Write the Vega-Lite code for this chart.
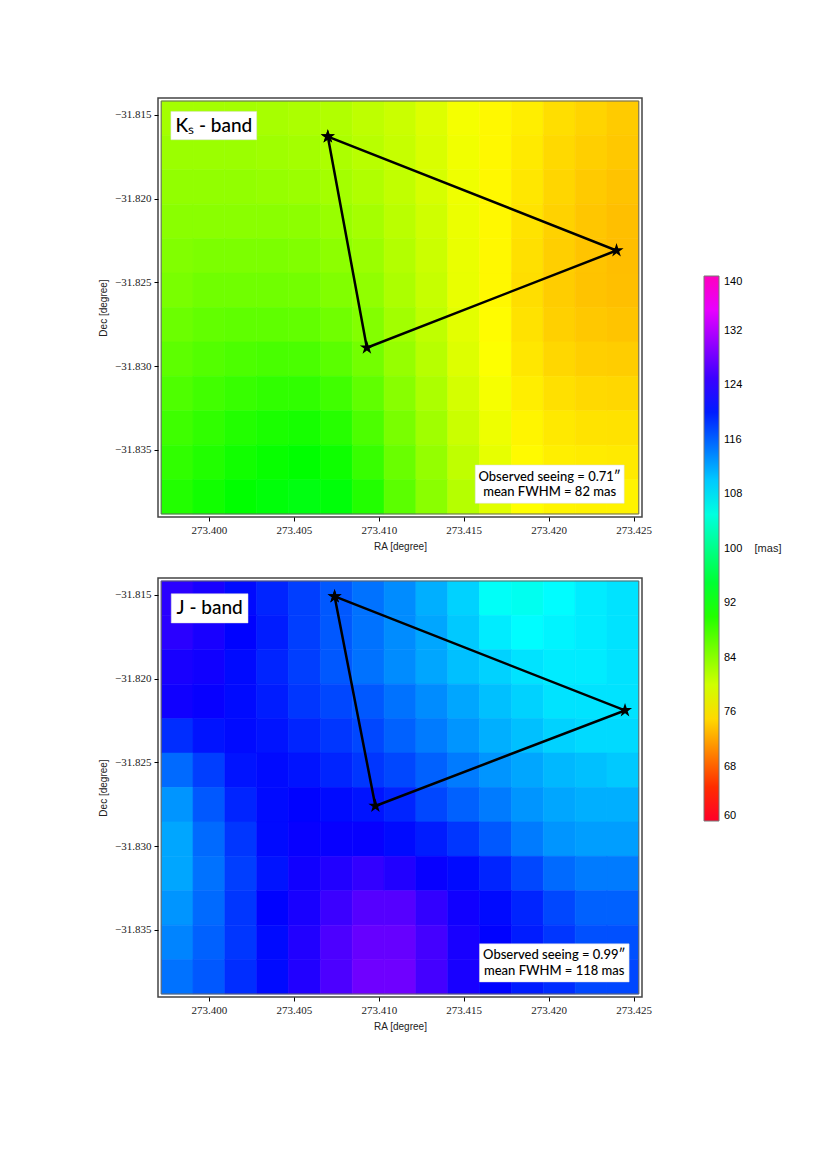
{
  "$schema": "https://vega.github.io/schema/vega-lite/v6.json",
  "autosize": {"type": "pad"},
  "padding": {"left": 97, "top": 97, "right": 5, "bottom": 5},
  "background": "white",
  "config": {
    "view": {"stroke": "#444", "strokeWidth": 1.5},
    "axis": {"domain": false, "grid": false, "tickColor": "#000", "tickSize": 4, "labelFont": "Liberation Serif", "labelFontSize": 11, "labelColor": "#222", "titleFont": "Liberation Sans", "titleFontSize": 10, "titleFontWeight": "normal", "titleColor": "#222"},
    "legend": {"padding": 0}
  },
  "datasets": {
    "ks": [
      {"ra":273.3980,"dec":-31.8150,"fwhm":82.5},{"ra":273.3999,"dec":-31.8150,"fwhm":82.5},{"ra":273.4018,"dec":-31.8150,"fwhm":82.5},{"ra":273.4037,"dec":-31.8150,"fwhm":82.3},{"ra":273.4056,"dec":-31.8150,"fwhm":82},{"ra":273.4075,"dec":-31.8150,"fwhm":81.7},{"ra":273.4094,"dec":-31.8150,"fwhm":81},{"ra":273.4113,"dec":-31.8150,"fwhm":80.3},{"ra":273.4132,"dec":-31.8150,"fwhm":79.2},{"ra":273.4151,"dec":-31.8150,"fwhm":77.8},{"ra":273.4170,"dec":-31.8150,"fwhm":76.8},{"ra":273.4189,"dec":-31.8150,"fwhm":76.2},{"ra":273.4208,"dec":-31.8150,"fwhm":75.3},{"ra":273.4227,"dec":-31.8150,"fwhm":74.7},{"ra":273.4246,"dec":-31.8150,"fwhm":74.2},
      {"ra":273.3980,"dec":-31.8171,"fwhm":83},{"ra":273.3999,"dec":-31.8171,"fwhm":83},{"ra":273.4018,"dec":-31.8171,"fwhm":83},{"ra":273.4037,"dec":-31.8171,"fwhm":82.8},{"ra":273.4056,"dec":-31.8171,"fwhm":82.5},{"ra":273.4075,"dec":-31.8171,"fwhm":82},{"ra":273.4094,"dec":-31.8171,"fwhm":81.3},{"ra":273.4113,"dec":-31.8171,"fwhm":80.5},{"ra":273.4132,"dec":-31.8171,"fwhm":79.4},{"ra":273.4151,"dec":-31.8171,"fwhm":78},{"ra":273.4170,"dec":-31.8171,"fwhm":76.8},{"ra":273.4189,"dec":-31.8171,"fwhm":76},{"ra":273.4208,"dec":-31.8171,"fwhm":75},{"ra":273.4227,"dec":-31.8171,"fwhm":74.4},{"ra":273.4246,"dec":-31.8171,"fwhm":74},
      {"ra":273.3980,"dec":-31.8192,"fwhm":83.5},{"ra":273.3999,"dec":-31.8192,"fwhm":83.5},{"ra":273.4018,"dec":-31.8192,"fwhm":83.5},{"ra":273.4037,"dec":-31.8192,"fwhm":83.3},{"ra":273.4056,"dec":-31.8192,"fwhm":83},{"ra":273.4075,"dec":-31.8192,"fwhm":82.5},{"ra":273.4094,"dec":-31.8192,"fwhm":81.8},{"ra":273.4113,"dec":-31.8192,"fwhm":80.8},{"ra":273.4132,"dec":-31.8192,"fwhm":79.6},{"ra":273.4151,"dec":-31.8192,"fwhm":78.1},{"ra":273.4170,"dec":-31.8192,"fwhm":76.8},{"ra":273.4189,"dec":-31.8192,"fwhm":75.8},{"ra":273.4208,"dec":-31.8192,"fwhm":74.8},{"ra":273.4227,"dec":-31.8192,"fwhm":74.1},{"ra":273.4246,"dec":-31.8192,"fwhm":73.7},
      {"ra":273.3980,"dec":-31.8213,"fwhm":84},{"ra":273.3999,"dec":-31.8213,"fwhm":84},{"ra":273.4018,"dec":-31.8213,"fwhm":84},{"ra":273.4037,"dec":-31.8213,"fwhm":84},{"ra":273.4056,"dec":-31.8213,"fwhm":83.8},{"ra":273.4075,"dec":-31.8213,"fwhm":83.2},{"ra":273.4094,"dec":-31.8213,"fwhm":82.4},{"ra":273.4113,"dec":-31.8213,"fwhm":81.2},{"ra":273.4132,"dec":-31.8213,"fwhm":80},{"ra":273.4151,"dec":-31.8213,"fwhm":78.3},{"ra":273.4170,"dec":-31.8213,"fwhm":76.8},{"ra":273.4189,"dec":-31.8213,"fwhm":75.6},{"ra":273.4208,"dec":-31.8213,"fwhm":74.6},{"ra":273.4227,"dec":-31.8213,"fwhm":73.9},{"ra":273.4246,"dec":-31.8213,"fwhm":73.5},
      {"ra":273.3980,"dec":-31.8234,"fwhm":84.5},{"ra":273.3999,"dec":-31.8234,"fwhm":84.8},{"ra":273.4018,"dec":-31.8234,"fwhm":84.8},{"ra":273.4037,"dec":-31.8234,"fwhm":84.8},{"ra":273.4056,"dec":-31.8234,"fwhm":84.5},{"ra":273.4075,"dec":-31.8234,"fwhm":83.8},{"ra":273.4094,"dec":-31.8234,"fwhm":83},{"ra":273.4113,"dec":-31.8234,"fwhm":81.6},{"ra":273.4132,"dec":-31.8234,"fwhm":80.2},{"ra":273.4151,"dec":-31.8234,"fwhm":78.4},{"ra":273.4170,"dec":-31.8234,"fwhm":76.8},{"ra":273.4189,"dec":-31.8234,"fwhm":75.4},{"ra":273.4208,"dec":-31.8234,"fwhm":74.4},{"ra":273.4227,"dec":-31.8234,"fwhm":73.8},{"ra":273.4246,"dec":-31.8234,"fwhm":73.4},
      {"ra":273.3980,"dec":-31.8255,"fwhm":85},{"ra":273.3999,"dec":-31.8255,"fwhm":85.5},{"ra":273.4018,"dec":-31.8255,"fwhm":85.5},{"ra":273.4037,"dec":-31.8255,"fwhm":85.5},{"ra":273.4056,"dec":-31.8255,"fwhm":85.3},{"ra":273.4075,"dec":-31.8255,"fwhm":84.5},{"ra":273.4094,"dec":-31.8255,"fwhm":83.6},{"ra":273.4113,"dec":-31.8255,"fwhm":82},{"ra":273.4132,"dec":-31.8255,"fwhm":80.5},{"ra":273.4151,"dec":-31.8255,"fwhm":78.5},{"ra":273.4170,"dec":-31.8255,"fwhm":76.8},{"ra":273.4189,"dec":-31.8255,"fwhm":75.3},{"ra":273.4208,"dec":-31.8255,"fwhm":74.3},{"ra":273.4227,"dec":-31.8255,"fwhm":73.7},{"ra":273.4246,"dec":-31.8255,"fwhm":73.5},
      {"ra":273.3980,"dec":-31.8275,"fwhm":85.8},{"ra":273.3999,"dec":-31.8275,"fwhm":86.3},{"ra":273.4018,"dec":-31.8275,"fwhm":86.5},{"ra":273.4037,"dec":-31.8275,"fwhm":86.5},{"ra":273.4056,"dec":-31.8275,"fwhm":86.3},{"ra":273.4075,"dec":-31.8275,"fwhm":85.5},{"ra":273.4094,"dec":-31.8275,"fwhm":84.4},{"ra":273.4113,"dec":-31.8275,"fwhm":82.6},{"ra":273.4132,"dec":-31.8275,"fwhm":80.9},{"ra":273.4151,"dec":-31.8275,"fwhm":78.8},{"ra":273.4170,"dec":-31.8275,"fwhm":77},{"ra":273.4189,"dec":-31.8275,"fwhm":75.5},{"ra":273.4208,"dec":-31.8275,"fwhm":74.5},{"ra":273.4227,"dec":-31.8275,"fwhm":74},{"ra":273.4246,"dec":-31.8275,"fwhm":73.8},
      {"ra":273.3980,"dec":-31.8296,"fwhm":86.6},{"ra":273.3999,"dec":-31.8296,"fwhm":87.2},{"ra":273.4018,"dec":-31.8296,"fwhm":87.6},{"ra":273.4037,"dec":-31.8296,"fwhm":87.8},{"ra":273.4056,"dec":-31.8296,"fwhm":87.7},{"ra":273.4075,"dec":-31.8296,"fwhm":86.8},{"ra":273.4094,"dec":-31.8296,"fwhm":85.3},{"ra":273.4113,"dec":-31.8296,"fwhm":83.3},{"ra":273.4132,"dec":-31.8296,"fwhm":81.4},{"ra":273.4151,"dec":-31.8296,"fwhm":79.2},{"ra":273.4170,"dec":-31.8296,"fwhm":77.3},{"ra":273.4189,"dec":-31.8296,"fwhm":75.8},{"ra":273.4208,"dec":-31.8296,"fwhm":74.9},{"ra":273.4227,"dec":-31.8296,"fwhm":74.4},{"ra":273.4246,"dec":-31.8296,"fwhm":74.3},
      {"ra":273.3980,"dec":-31.8317,"fwhm":87.5},{"ra":273.3999,"dec":-31.8317,"fwhm":88.2},{"ra":273.4018,"dec":-31.8317,"fwhm":88.8},{"ra":273.4037,"dec":-31.8317,"fwhm":89.2},{"ra":273.4056,"dec":-31.8317,"fwhm":89.2},{"ra":273.4075,"dec":-31.8317,"fwhm":88.3},{"ra":273.4094,"dec":-31.8317,"fwhm":86.4},{"ra":273.4113,"dec":-31.8317,"fwhm":84.1},{"ra":273.4132,"dec":-31.8317,"fwhm":82},{"ra":273.4151,"dec":-31.8317,"fwhm":79.7},{"ra":273.4170,"dec":-31.8317,"fwhm":77.7},{"ra":273.4189,"dec":-31.8317,"fwhm":76.2},{"ra":273.4208,"dec":-31.8317,"fwhm":75.4},{"ra":273.4227,"dec":-31.8317,"fwhm":75},{"ra":273.4246,"dec":-31.8317,"fwhm":74.9},
      {"ra":273.3980,"dec":-31.8338,"fwhm":88.4},{"ra":273.3999,"dec":-31.8338,"fwhm":89.2},{"ra":273.4018,"dec":-31.8338,"fwhm":90},{"ra":273.4037,"dec":-31.8338,"fwhm":90.5},{"ra":273.4056,"dec":-31.8338,"fwhm":90.7},{"ra":273.4075,"dec":-31.8338,"fwhm":89.8},{"ra":273.4094,"dec":-31.8338,"fwhm":87.6},{"ra":273.4113,"dec":-31.8338,"fwhm":85},{"ra":273.4132,"dec":-31.8338,"fwhm":82.7},{"ra":273.4151,"dec":-31.8338,"fwhm":80.3},{"ra":273.4170,"dec":-31.8338,"fwhm":78.2},{"ra":273.4189,"dec":-31.8338,"fwhm":76.6},{"ra":273.4208,"dec":-31.8338,"fwhm":75.9},{"ra":273.4227,"dec":-31.8338,"fwhm":75.6},{"ra":273.4246,"dec":-31.8338,"fwhm":75.5},
      {"ra":273.3980,"dec":-31.8359,"fwhm":89.2},{"ra":273.3999,"dec":-31.8359,"fwhm":90.1},{"ra":273.4018,"dec":-31.8359,"fwhm":91},{"ra":273.4037,"dec":-31.8359,"fwhm":91.6},{"ra":273.4056,"dec":-31.8359,"fwhm":92},{"ra":273.4075,"dec":-31.8359,"fwhm":91.2},{"ra":273.4094,"dec":-31.8359,"fwhm":88.8},{"ra":273.4113,"dec":-31.8359,"fwhm":85.9},{"ra":273.4132,"dec":-31.8359,"fwhm":83.4},{"ra":273.4151,"dec":-31.8359,"fwhm":80.9},{"ra":273.4170,"dec":-31.8359,"fwhm":78.6},{"ra":273.4189,"dec":-31.8359,"fwhm":76.9},{"ra":273.4208,"dec":-31.8359,"fwhm":76.3},{"ra":273.4227,"dec":-31.8359,"fwhm":76.1},{"ra":273.4246,"dec":-31.8359,"fwhm":76},
      {"ra":273.3980,"dec":-31.8380,"fwhm":90},{"ra":273.3999,"dec":-31.8380,"fwhm":91},{"ra":273.4018,"dec":-31.8380,"fwhm":92},{"ra":273.4037,"dec":-31.8380,"fwhm":92.5},{"ra":273.4056,"dec":-31.8380,"fwhm":93},{"ra":273.4075,"dec":-31.8380,"fwhm":92.5},{"ra":273.4094,"dec":-31.8380,"fwhm":90},{"ra":273.4113,"dec":-31.8380,"fwhm":86.7},{"ra":273.4132,"dec":-31.8380,"fwhm":84},{"ra":273.4151,"dec":-31.8380,"fwhm":81.5},{"ra":273.4170,"dec":-31.8380,"fwhm":79},{"ra":273.4189,"dec":-31.8380,"fwhm":77.2},{"ra":273.4208,"dec":-31.8380,"fwhm":76.6},{"ra":273.4227,"dec":-31.8380,"fwhm":76.5},{"ra":273.4246,"dec":-31.8380,"fwhm":76.5}
    ],
    "j": [
      {"ra":273.3980,"dec":-31.8150,"fwhm":124},{"ra":273.3999,"dec":-31.8150,"fwhm":123},{"ra":273.4018,"dec":-31.8150,"fwhm":121},{"ra":273.4037,"dec":-31.8150,"fwhm":119.5},{"ra":273.4056,"dec":-31.8150,"fwhm":118},{"ra":273.4075,"dec":-31.8150,"fwhm":116.5},{"ra":273.4094,"dec":-31.8150,"fwhm":115},{"ra":273.4113,"dec":-31.8150,"fwhm":113.5},{"ra":273.4132,"dec":-31.8150,"fwhm":111.5},{"ra":273.4151,"dec":-31.8150,"fwhm":109.5},{"ra":273.4170,"dec":-31.8150,"fwhm":106.5},{"ra":273.4189,"dec":-31.8150,"fwhm":106},{"ra":273.4208,"dec":-31.8150,"fwhm":107},{"ra":273.4227,"dec":-31.8150,"fwhm":108},{"ra":273.4246,"dec":-31.8150,"fwhm":108.5},
      {"ra":273.3980,"dec":-31.8171,"fwhm":124},{"ra":273.3999,"dec":-31.8171,"fwhm":123},{"ra":273.4018,"dec":-31.8171,"fwhm":121.5},{"ra":273.4037,"dec":-31.8171,"fwhm":120},{"ra":273.4056,"dec":-31.8171,"fwhm":118},{"ra":273.4075,"dec":-31.8171,"fwhm":116.5},{"ra":273.4094,"dec":-31.8171,"fwhm":115},{"ra":273.4113,"dec":-31.8171,"fwhm":113.5},{"ra":273.4132,"dec":-31.8171,"fwhm":112},{"ra":273.4151,"dec":-31.8171,"fwhm":110},{"ra":273.4170,"dec":-31.8171,"fwhm":108},{"ra":273.4189,"dec":-31.8171,"fwhm":107},{"ra":273.4208,"dec":-31.8171,"fwhm":107.5},{"ra":273.4227,"dec":-31.8171,"fwhm":108},{"ra":273.4246,"dec":-31.8171,"fwhm":108.5},
      {"ra":273.3980,"dec":-31.8192,"fwhm":123},{"ra":273.3999,"dec":-31.8192,"fwhm":122.5},{"ra":273.4018,"dec":-31.8192,"fwhm":121},{"ra":273.4037,"dec":-31.8192,"fwhm":119.5},{"ra":273.4056,"dec":-31.8192,"fwhm":118},{"ra":273.4075,"dec":-31.8192,"fwhm":116.5},{"ra":273.4094,"dec":-31.8192,"fwhm":115},{"ra":273.4113,"dec":-31.8192,"fwhm":113.5},{"ra":273.4132,"dec":-31.8192,"fwhm":112},{"ra":273.4151,"dec":-31.8192,"fwhm":110.5},{"ra":273.4170,"dec":-31.8192,"fwhm":109.5},{"ra":273.4189,"dec":-31.8192,"fwhm":108.5},{"ra":273.4208,"dec":-31.8192,"fwhm":108},{"ra":273.4227,"dec":-31.8192,"fwhm":108},{"ra":273.4246,"dec":-31.8192,"fwhm":108.5},
      {"ra":273.3980,"dec":-31.8213,"fwhm":122.5},{"ra":273.3999,"dec":-31.8213,"fwhm":122},{"ra":273.4018,"dec":-31.8213,"fwhm":121},{"ra":273.4037,"dec":-31.8213,"fwhm":120},{"ra":273.4056,"dec":-31.8213,"fwhm":118.5},{"ra":273.4075,"dec":-31.8213,"fwhm":117.5},{"ra":273.4094,"dec":-31.8213,"fwhm":116.5},{"ra":273.4113,"dec":-31.8213,"fwhm":115},{"ra":273.4132,"dec":-31.8213,"fwhm":113.5},{"ra":273.4151,"dec":-31.8213,"fwhm":112},{"ra":273.4170,"dec":-31.8213,"fwhm":110.5},{"ra":273.4189,"dec":-31.8213,"fwhm":109.5},{"ra":273.4208,"dec":-31.8213,"fwhm":108.5},{"ra":273.4227,"dec":-31.8213,"fwhm":108.5},{"ra":273.4246,"dec":-31.8213,"fwhm":108.5},
      {"ra":273.3980,"dec":-31.8234,"fwhm":119},{"ra":273.3999,"dec":-31.8234,"fwhm":120.5},{"ra":273.4018,"dec":-31.8234,"fwhm":121},{"ra":273.4037,"dec":-31.8234,"fwhm":120.5},{"ra":273.4056,"dec":-31.8234,"fwhm":119.5},{"ra":273.4075,"dec":-31.8234,"fwhm":118.5},{"ra":273.4094,"dec":-31.8234,"fwhm":117.5},{"ra":273.4113,"dec":-31.8234,"fwhm":116},{"ra":273.4132,"dec":-31.8234,"fwhm":114.5},{"ra":273.4151,"dec":-31.8234,"fwhm":113},{"ra":273.4170,"dec":-31.8234,"fwhm":111.5},{"ra":273.4189,"dec":-31.8234,"fwhm":110.5},{"ra":273.4208,"dec":-31.8234,"fwhm":109.5},{"ra":273.4227,"dec":-31.8234,"fwhm":109},{"ra":273.4246,"dec":-31.8234,"fwhm":109},
      {"ra":273.3980,"dec":-31.8255,"fwhm":115.5},{"ra":273.3999,"dec":-31.8255,"fwhm":118},{"ra":273.4018,"dec":-31.8255,"fwhm":120.5},{"ra":273.4037,"dec":-31.8255,"fwhm":121},{"ra":273.4056,"dec":-31.8255,"fwhm":120.5},{"ra":273.4075,"dec":-31.8255,"fwhm":119.5},{"ra":273.4094,"dec":-31.8255,"fwhm":118.5},{"ra":273.4113,"dec":-31.8255,"fwhm":117.5},{"ra":273.4132,"dec":-31.8255,"fwhm":116},{"ra":273.4151,"dec":-31.8255,"fwhm":114.5},{"ra":273.4170,"dec":-31.8255,"fwhm":113},{"ra":273.4189,"dec":-31.8255,"fwhm":112},{"ra":273.4208,"dec":-31.8255,"fwhm":111},{"ra":273.4227,"dec":-31.8255,"fwhm":110.5},{"ra":273.4246,"dec":-31.8255,"fwhm":110},
      {"ra":273.3980,"dec":-31.8275,"fwhm":113},{"ra":273.3999,"dec":-31.8275,"fwhm":116.5},{"ra":273.4018,"dec":-31.8275,"fwhm":119.5},{"ra":273.4037,"dec":-31.8275,"fwhm":121},{"ra":273.4056,"dec":-31.8275,"fwhm":121.5},{"ra":273.4075,"dec":-31.8275,"fwhm":121},{"ra":273.4094,"dec":-31.8275,"fwhm":120.5},{"ra":273.4113,"dec":-31.8275,"fwhm":119.5},{"ra":273.4132,"dec":-31.8275,"fwhm":117.5},{"ra":273.4151,"dec":-31.8275,"fwhm":116},{"ra":273.4170,"dec":-31.8275,"fwhm":114.5},{"ra":273.4189,"dec":-31.8275,"fwhm":113},{"ra":273.4208,"dec":-31.8275,"fwhm":112},{"ra":273.4227,"dec":-31.8275,"fwhm":111.5},{"ra":273.4246,"dec":-31.8275,"fwhm":111.5},
      {"ra":273.3980,"dec":-31.8296,"fwhm":112},{"ra":273.3999,"dec":-31.8296,"fwhm":115.5},{"ra":273.4018,"dec":-31.8296,"fwhm":118.5},{"ra":273.4037,"dec":-31.8296,"fwhm":121},{"ra":273.4056,"dec":-31.8296,"fwhm":122},{"ra":273.4075,"dec":-31.8296,"fwhm":122},{"ra":273.4094,"dec":-31.8296,"fwhm":122},{"ra":273.4113,"dec":-31.8296,"fwhm":121},{"ra":273.4132,"dec":-31.8296,"fwhm":120},{"ra":273.4151,"dec":-31.8296,"fwhm":118.5},{"ra":273.4170,"dec":-31.8296,"fwhm":116.5},{"ra":273.4189,"dec":-31.8296,"fwhm":114.5},{"ra":273.4208,"dec":-31.8296,"fwhm":113},{"ra":273.4227,"dec":-31.8296,"fwhm":112.5},{"ra":273.4246,"dec":-31.8296,"fwhm":112.5},
      {"ra":273.3980,"dec":-31.8317,"fwhm":112},{"ra":273.3999,"dec":-31.8317,"fwhm":115},{"ra":273.4018,"dec":-31.8317,"fwhm":118},{"ra":273.4037,"dec":-31.8317,"fwhm":120.5},{"ra":273.4056,"dec":-31.8317,"fwhm":122.5},{"ra":273.4075,"dec":-31.8317,"fwhm":123.5},{"ra":273.4094,"dec":-31.8317,"fwhm":124.5},{"ra":273.4113,"dec":-31.8317,"fwhm":123.5},{"ra":273.4132,"dec":-31.8317,"fwhm":122},{"ra":273.4151,"dec":-31.8317,"fwhm":121},{"ra":273.4170,"dec":-31.8317,"fwhm":119.5},{"ra":273.4189,"dec":-31.8317,"fwhm":117.5},{"ra":273.4208,"dec":-31.8317,"fwhm":115.5},{"ra":273.4227,"dec":-31.8317,"fwhm":114.5},{"ra":273.4246,"dec":-31.8317,"fwhm":114.5},
      {"ra":273.3980,"dec":-31.8338,"fwhm":113},{"ra":273.3999,"dec":-31.8338,"fwhm":115.5},{"ra":273.4018,"dec":-31.8338,"fwhm":118.5},{"ra":273.4037,"dec":-31.8338,"fwhm":121.5},{"ra":273.4056,"dec":-31.8338,"fwhm":123},{"ra":273.4075,"dec":-31.8338,"fwhm":125},{"ra":273.4094,"dec":-31.8338,"fwhm":126.5},{"ra":273.4113,"dec":-31.8338,"fwhm":126.5},{"ra":273.4132,"dec":-31.8338,"fwhm":124.5},{"ra":273.4151,"dec":-31.8338,"fwhm":122.5},{"ra":273.4170,"dec":-31.8338,"fwhm":121},{"ra":273.4189,"dec":-31.8338,"fwhm":119.5},{"ra":273.4208,"dec":-31.8338,"fwhm":117.5},{"ra":273.4227,"dec":-31.8338,"fwhm":116},{"ra":273.4246,"dec":-31.8338,"fwhm":116},
      {"ra":273.3980,"dec":-31.8359,"fwhm":114},{"ra":273.3999,"dec":-31.8359,"fwhm":116},{"ra":273.4018,"dec":-31.8359,"fwhm":118.5},{"ra":273.4037,"dec":-31.8359,"fwhm":121},{"ra":273.4056,"dec":-31.8359,"fwhm":123.5},{"ra":273.4075,"dec":-31.8359,"fwhm":126},{"ra":273.4094,"dec":-31.8359,"fwhm":127.5},{"ra":273.4113,"dec":-31.8359,"fwhm":127.5},{"ra":273.4132,"dec":-31.8359,"fwhm":125.5},{"ra":273.4151,"dec":-31.8359,"fwhm":123},{"ra":273.4170,"dec":-31.8359,"fwhm":121.5},{"ra":273.4189,"dec":-31.8359,"fwhm":120},{"ra":273.4208,"dec":-31.8359,"fwhm":118.5},{"ra":273.4227,"dec":-31.8359,"fwhm":117},{"ra":273.4246,"dec":-31.8359,"fwhm":117},
      {"ra":273.3980,"dec":-31.8380,"fwhm":115},{"ra":273.3999,"dec":-31.8380,"fwhm":116.5},{"ra":273.4018,"dec":-31.8380,"fwhm":119},{"ra":273.4037,"dec":-31.8380,"fwhm":121},{"ra":273.4056,"dec":-31.8380,"fwhm":123.5},{"ra":273.4075,"dec":-31.8380,"fwhm":126},{"ra":273.4094,"dec":-31.8380,"fwhm":128},{"ra":273.4113,"dec":-31.8380,"fwhm":128},{"ra":273.4132,"dec":-31.8380,"fwhm":125.5},{"ra":273.4151,"dec":-31.8380,"fwhm":123},{"ra":273.4170,"dec":-31.8380,"fwhm":121.5},{"ra":273.4189,"dec":-31.8380,"fwhm":120},{"ra":273.4208,"dec":-31.8380,"fwhm":119},{"ra":273.4227,"dec":-31.8380,"fwhm":117.5},{"ra":273.4246,"dec":-31.8380,"fwhm":117.5}
    ],
    "ksTri": [
      {"order":0,"ra":273.4070,"dec":-31.8163},{"order":1,"ra":273.4240,"dec":-31.8231},{"order":2,"ra":273.4093,"dec":-31.8289},{"order":3,"ra":273.4070,"dec":-31.8163}
    ],
    "jTri": [
      {"order":0,"ra":273.4074,"dec":-31.8151},{"order":1,"ra":273.4245,"dec":-31.8219},{"order":2,"ra":273.4098,"dec":-31.8276},{"order":3,"ra":273.4074,"dec":-31.8151}
    ],
    "frame": [
      {"ra":273.39719,"ra2":273.42531,"dec":-31.81418,"dec2":-31.83882}
    ],
    "ksBoxes": [
      {"ra":273.39776,"ra2":273.40281,"dec":-31.81480,"dec2":-31.81649},
      {"ra":273.41568,"ra2":273.42445,"dec":-31.83590,"dec2":-31.83818}
    ],
    "jBoxes": [
      {"ra":273.39778,"ra2":273.40230,"dec":-31.81494,"dec2":-31.81668},
      {"ra":273.41593,"ra2":273.42474,"dec":-31.83583,"dec2":-31.83810}
    ],
    "ksBand": [{"ra":273.40029,"dec":-31.81565,"label":"Kₛ - band"}],
    "jBand": [{"ra":273.40004,"dec":-31.81580,"label":"J - band"}],
    "ksNote": [
      {"ra":273.42006,"dec":-31.83659,"label":"Observed seeing = 0.71″"},
      {"ra":273.42006,"dec":-31.83753,"label":"mean FWHM = 82 mas"}
    ],
    "jNote": [
      {"ra":273.42033,"dec":-31.83652,"label":"Observed seeing = 0.99″"},
      {"ra":273.42033,"dec":-31.83745,"label":"mean FWHM = 118 mas"}
    ],
    "unit": [{"ra":273.43292,"dec":-31.84088,"label":"[mas]"}]
  },
  "spacing": 22,
  "resolve": {"scale": {"color": "shared", "stroke": "shared"}, "legend": {"color": "shared", "stroke": "independent"}},
  "vconcat": [
    {
      "width": 484,
      "height": 419,
      "resolve": {"scale": {"x": "independent", "y": "independent"}, "axis": {"x": "independent", "y": "independent"}},
      "layer": [
        {
          "data": {"name": "ks"},
          "mark": {"type": "rect", "strokeWidth": 0.6},
          "encoding": {
            "x": {"field": "ra", "type": "ordinal", "axis": null, "scale": {"paddingInner": 0, "paddingOuter": 0.1}},
            "y": {"field": "dec", "type": "ordinal", "sort": "descending", "axis": null, "scale": {"paddingInner": 0, "paddingOuter": 0.085}},
            "color": {
              "field": "fwhm", "type": "quantitative",
              "scale": {"domain": [60, 62.4, 77.2, 92, 106.88, 121.6, 136.32, 140], "range": ["#ff0029", "#ff0000", "#ffff00", "#00ff00", "#00ffff", "#0000ff", "#ff00ff", "#ff00bf"], "interpolate": "rgb"},
              "legend": {"type": "gradient", "orient": "none", "legendX": 546, "legendY": 178, "direction": "vertical", "gradientLength": 545, "gradientThickness": 15, "values": [60, 68, 76, 84, 92, 100, 108, 116, 124, 132, 140], "title": null, "labelFont": "Liberation Sans", "labelFontSize": 11, "labelOffset": 5, "gradientStrokeColor": "#777", "gradientStrokeWidth": 1}
            },
            "stroke": {
              "field": "fwhm", "type": "quantitative", "title": "stroke",
              "scale": {"domain": [60, 62.4, 77.2, 92, 106.88, 121.6, 136.32, 140], "range": ["#ff0029", "#ff0000", "#ffff00", "#00ff00", "#00ffff", "#0000ff", "#ff00ff", "#ff00bf"], "interpolate": "rgb"},
              "legend": null
            }
          }
        },
        {
          "layer": [
            {
              "data": {"name": "frame"},
              "mark": {"type": "rect", "fill": null, "stroke": "#666", "strokeWidth": 1},
              "encoding": {
                "x": {"field": "ra", "type": "quantitative", "scale": {"domain": [273.397, 273.4255], "nice": false, "zero": false}, "axis": {"title": "RA [degree]", "values": [273.400, 273.405, 273.410, 273.415, 273.420, 273.425], "format": ".3f", "labelPadding": 3, "titlePadding": 6, "labelFont": "Liberation Serif", "labelFontSize": 11}},
                "x2": {"field": "ra2"},
                "y": {"field": "dec", "type": "quantitative", "scale": {"domain": [-31.839, -31.814], "nice": false, "zero": false}, "axis": {"title": "Dec [degree]", "values": [-31.815, -31.820, -31.825, -31.830, -31.835], "format": ".3f", "labelPadding": 3, "titlePadding": 6, "labelFont": "Liberation Serif", "labelFontSize": 11}},
                "y2": {"field": "dec2"}
              }
            },
            {
              "data": {"name": "ksTri"},
              "mark": {"type": "line", "color": "black", "strokeWidth": 2.5},
              "encoding": {
                "x": {"field": "ra", "type": "quantitative"},
                "y": {"field": "dec", "type": "quantitative"},
                "order": {"field": "order", "type": "quantitative"}
              }
            },
            {
              "data": {"name": "ksTri"},
              "mark": {"type": "point", "shape": "M0,-1L0.225,-0.309L0.951,-0.309L0.363,0.118L0.588,0.809L0,0.382L-0.588,0.809L-0.363,0.118L-0.951,-0.309L-0.225,-0.309Z", "filled": true, "color": "black", "opacity": 1, "size": 220},
              "encoding": {
                "x": {"field": "ra", "type": "quantitative"},
                "y": {"field": "dec", "type": "quantitative"}
              }
            },
            {
              "data": {"name": "ksBoxes"},
              "mark": {"type": "rect", "fill": "white", "stroke": "#ddd", "strokeWidth": 0.5},
              "encoding": {
                "x": {"field": "ra", "type": "quantitative"},
                "x2": {"field": "ra2"},
                "y": {"field": "dec", "type": "quantitative"},
                "y2": {"field": "dec2"}
              }
            },
            {
              "data": {"name": "ksBand"},
              "mark": {"type": "text", "font": "Lato", "fontSize": 19, "fontWeight": 500, "color": "black", "align": "center", "baseline": "middle"},
              "encoding": {
                "x": {"field": "ra", "type": "quantitative"},
                "y": {"field": "dec", "type": "quantitative"},
                "text": {"field": "label"}
              }
            },
            {
              "data": {"name": "ksNote"},
              "mark": {"type": "text", "font": "Lato", "fontSize": 13, "fontWeight": 500, "color": "black", "align": "center", "baseline": "middle"},
              "encoding": {
                "x": {"field": "ra", "type": "quantitative"},
                "y": {"field": "dec", "type": "quantitative"},
                "text": {"field": "label"}
              }
            },
            {
              "data": {"name": "unit"},
              "mark": {"type": "text", "font": "Liberation Sans", "fontSize": 11, "color": "#222", "align": "center", "baseline": "middle", "clip": false},
              "encoding": {
                "x": {"field": "ra", "type": "quantitative"},
                "y": {"field": "dec", "type": "quantitative"},
                "text": {"field": "label"}
              }
            }
          ]
        }
      ]
    },
    {
      "width": 484,
      "height": 419,
      "resolve": {"scale": {"x": "independent", "y": "independent"}, "axis": {"x": "independent", "y": "independent"}},
      "layer": [
        {
          "data": {"name": "j"},
          "mark": {"type": "rect", "strokeWidth": 0.6},
          "encoding": {
            "x": {"field": "ra", "type": "ordinal", "axis": null, "scale": {"paddingInner": 0, "paddingOuter": 0.1}},
            "y": {"field": "dec", "type": "ordinal", "sort": "descending", "axis": null, "scale": {"paddingInner": 0, "paddingOuter": 0.085}},
            "color": {
              "field": "fwhm", "type": "quantitative",
              "scale": {"domain": [60, 62.4, 77.2, 92, 106.88, 121.6, 136.32, 140], "range": ["#ff0029", "#ff0000", "#ffff00", "#00ff00", "#00ffff", "#0000ff", "#ff00ff", "#ff00bf"], "interpolate": "rgb"},
              "legend": {"type": "gradient", "orient": "none", "legendX": 546, "legendY": 178, "direction": "vertical", "gradientLength": 545, "gradientThickness": 15, "values": [60, 68, 76, 84, 92, 100, 108, 116, 124, 132, 140], "title": null, "labelFont": "Liberation Sans", "labelFontSize": 11, "labelOffset": 5, "gradientStrokeColor": "#777", "gradientStrokeWidth": 1}
            },
            "stroke": {
              "field": "fwhm", "type": "quantitative", "title": "stroke",
              "scale": {"domain": [60, 62.4, 77.2, 92, 106.88, 121.6, 136.32, 140], "range": ["#ff0029", "#ff0000", "#ffff00", "#00ff00", "#00ffff", "#0000ff", "#ff00ff", "#ff00bf"], "interpolate": "rgb"},
              "legend": null
            }
          }
        },
        {
          "layer": [
            {
              "data": {"name": "frame"},
              "mark": {"type": "rect", "fill": null, "stroke": "#666", "strokeWidth": 1},
              "encoding": {
                "x": {"field": "ra", "type": "quantitative", "scale": {"domain": [273.397, 273.4255], "nice": false, "zero": false}, "axis": {"title": "RA [degree]", "values": [273.400, 273.405, 273.410, 273.415, 273.420, 273.425], "format": ".3f", "labelPadding": 3, "titlePadding": 6, "labelFont": "Liberation Serif", "labelFontSize": 11}},
                "x2": {"field": "ra2"},
                "y": {"field": "dec", "type": "quantitative", "scale": {"domain": [-31.839, -31.814], "nice": false, "zero": false}, "axis": {"title": "Dec [degree]", "values": [-31.815, -31.820, -31.825, -31.830, -31.835], "format": ".3f", "labelPadding": 3, "titlePadding": 6, "labelFont": "Liberation Serif", "labelFontSize": 11}},
                "y2": {"field": "dec2"}
              }
            },
            {
              "data": {"name": "jTri"},
              "mark": {"type": "line", "color": "black", "strokeWidth": 2.5},
              "encoding": {
                "x": {"field": "ra", "type": "quantitative"},
                "y": {"field": "dec", "type": "quantitative"},
                "order": {"field": "order", "type": "quantitative"}
              }
            },
            {
              "data": {"name": "jTri"},
              "mark": {"type": "point", "shape": "M0,-1L0.225,-0.309L0.951,-0.309L0.363,0.118L0.588,0.809L0,0.382L-0.588,0.809L-0.363,0.118L-0.951,-0.309L-0.225,-0.309Z", "filled": true, "color": "black", "opacity": 1, "size": 220},
              "encoding": {
                "x": {"field": "ra", "type": "quantitative"},
                "y": {"field": "dec", "type": "quantitative"}
              }
            },
            {
              "data": {"name": "jBoxes"},
              "mark": {"type": "rect", "fill": "white", "stroke": "#ddd", "strokeWidth": 0.5},
              "encoding": {
                "x": {"field": "ra", "type": "quantitative"},
                "x2": {"field": "ra2"},
                "y": {"field": "dec", "type": "quantitative"},
                "y2": {"field": "dec2"}
              }
            },
            {
              "data": {"name": "jBand"},
              "mark": {"type": "text", "font": "Lato", "fontSize": 19, "fontWeight": 500, "color": "black", "align": "center", "baseline": "middle"},
              "encoding": {
                "x": {"field": "ra", "type": "quantitative"},
                "y": {"field": "dec", "type": "quantitative"},
                "text": {"field": "label"}
              }
            },
            {
              "data": {"name": "jNote"},
              "mark": {"type": "text", "font": "Lato", "fontSize": 13, "fontWeight": 500, "color": "black", "align": "center", "baseline": "middle"},
              "encoding": {
                "x": {"field": "ra", "type": "quantitative"},
                "y": {"field": "dec", "type": "quantitative"},
                "text": {"field": "label"}
              }
            }
          ]
        }
      ]
    }
  ]
}
